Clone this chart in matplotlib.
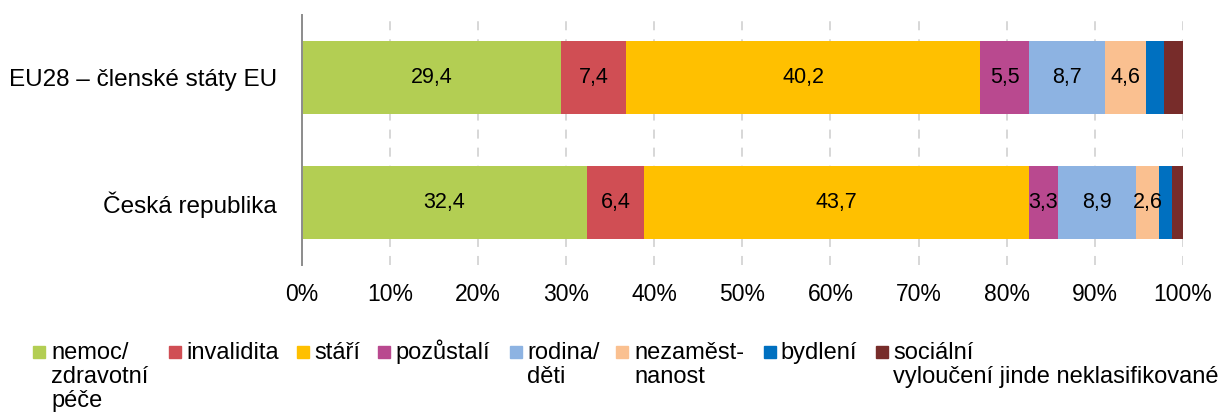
import matplotlib
matplotlib.use('Agg')
import matplotlib.pyplot as plt
from matplotlib.patches import Rectangle

plt.rcParams['font.family'] = ['Liberation Sans', 'DejaVu Sans']

# bottom to top
countries = ['Česká republika', 'EU28 – členské státy EU']
categories = ['nemoc/\nzdravotní\npéče', 'invalidita', 'stáří', 'pozůstalí',
              'rodina/\nděti', 'nezaměst-\nnanost', 'bydlení',
              'sociální\nvyloučení jinde neklasifikované']
cz = [32.4, 6.4, 43.7, 3.3, 8.9, 2.6, 1.4, 1.3]
eu28 = [29.4, 7.4, 40.2, 5.5, 8.7, 4.6, 2.0, 2.2]
colors = ['#B3CE53', '#D04E54', '#FFC000', '#B9498F',
          '#8DB3E2', '#FAC090', '#0070C0', '#772C2A']

W, H = 1223, 417
fig = plt.figure(figsize=(W / 100, H / 100), dpi=100)
ax = fig.add_axes([301.7 / W, 1 - 265 / H, (1183 - 301.7) / W, 250 / H])

series = [cz, eu28]
left = [0.0, 0.0]
for i, col in enumerate(colors):
    vals = [s[i] for s in series]
    bars = ax.barh(range(len(countries)), vals, left=left, height=0.585,
                   color=col, zorder=2)
    for b, v in zip(bars, vals):
        if v >= 2.5:
            ax.text(b.get_x() + b.get_width() / 2, b.get_y() + b.get_height() / 2,
                    f'{v:.1f}'.replace('.', ','), ha='center', va='center',
                    fontsize=15.5, color='black', zorder=3)
    left = [l + v for l, v in zip(left, vals)]

ax.set_xlim(0, 100)
ax.set_ylim(-0.5, 1.5)
ax.set_yticks(range(len(countries)))
ax.set_yticklabels(countries, fontsize=17.5)
ax.set_xticks(range(0, 101, 10))
ax.set_xticklabels([f'{t}%' for t in range(0, 101, 10)], fontsize=16.5)
ax.tick_params(axis='y', length=0, pad=18)
ax.tick_params(axis='x', length=0, pad=13)
ax.grid(axis='x', color='#D4D4D4', linestyle=(0, (5, 5)), linewidth=1.3, zorder=0)
for s in ['top', 'right', 'bottom']:
    ax.spines[s].set_visible(False)
ax.spines['left'].set_color('#8C8C8C')
ax.spines['left'].set_linewidth(1.4)
ax.spines['left'].set_zorder(4)

# legend drawn by hand so multi-line labels hang from the marker row
sq_x = [33, 169, 297, 378, 510, 616, 764, 876]
txt_x = [51, 186, 314, 395, 527, 634, 780, 893]
for sx, tx, col, lab in zip(sq_x, txt_x, colors, categories):
    fig.add_artist(Rectangle((sx / W, 1 - 358 / H), 12 / W, 12 / H,
                             transform=fig.transFigure, color=col))
    for k, line in enumerate(lab.split('\n')):
        fig.text(tx / W, 1 - (359 + 24 * k) / H, line, fontsize=17,
                 ha='left', va='baseline')

fig.savefig('out.png', dpi=100)
